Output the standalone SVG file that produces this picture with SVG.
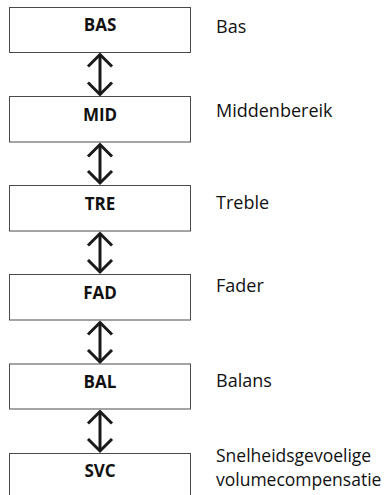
<svg xmlns="http://www.w3.org/2000/svg" width="390" height="495" viewBox="0 0 390 495">
<style>
.box{fill:#fff;stroke:#4a4a4a;stroke-width:1}
.code{font-family:"Open Sans","Liberation Sans",sans-serif;font-weight:bold;font-size:17px;fill:#111;text-anchor:middle}
.lbl{font-family:"Open Sans","Liberation Sans",sans-serif;font-size:18px;fill:#111}
.lbl2{font-size:17.5px}
.conn{stroke:#1a1a1a;stroke-width:3;fill:none}
</style>
<defs>
<marker id="chev" markerUnits="userSpaceOnUse" viewBox="0 0 16 28" markerWidth="16" markerHeight="28" refX="13.5" refY="14" orient="auto-start-reverse">
<path d="M1.5,2 L13.5,14 L1.5,26" fill="none" stroke="#1a1a1a" stroke-width="3" stroke-linejoin="miter"/>
</marker>
</defs>
<rect width="390" height="495" fill="#fff"/>
<g id="connectors">
<line class="conn" x1="100" y1="54.5" x2="100" y2="94.5" marker-start="url(#chev)" marker-end="url(#chev)"/>
<line class="conn" x1="100" y1="144.5" x2="100" y2="183" marker-start="url(#chev)" marker-end="url(#chev)"/>
<line class="conn" x1="100" y1="233.5" x2="100" y2="272" marker-start="url(#chev)" marker-end="url(#chev)"/>
<line class="conn" x1="100" y1="322.5" x2="100" y2="362" marker-start="url(#chev)" marker-end="url(#chev)"/>
<line class="conn" x1="100" y1="411.5" x2="100" y2="451" marker-start="url(#chev)" marker-end="url(#chev)"/>
</g>
<g id="node-bas">
<rect class="box" x="9.5" y="7.5" width="181" height="45"/>
<text class="code" x="100" y="31">BAS</text>
<text class="lbl" x="216" y="33">Bas</text>
</g>
<g id="node-mid">
<rect class="box" x="9.5" y="96.5" width="181" height="45.5"/>
<text class="code" x="100" y="121">MID</text>
<text class="lbl" x="216" y="116.5">Middenbereik</text>
</g>
<g id="node-tre">
<rect class="box" x="9.5" y="185.5" width="181" height="45.5"/>
<text class="code" x="100" y="210">TRE</text>
<text class="lbl" x="216" y="208.5">Treble</text>
</g>
<g id="node-fad">
<rect class="box" x="9.5" y="274.5" width="181" height="45.5"/>
<text class="code" x="100" y="299">FAD</text>
<text class="lbl" x="216" y="292">Fader</text>
</g>
<g id="node-bal">
<rect class="box" x="9.5" y="364" width="181" height="45"/>
<text class="code" x="100" y="388">BAL</text>
<text class="lbl" x="216" y="387">Balans</text>
</g>
<g id="node-svc">
<rect class="box" x="9.5" y="453.5" width="181" height="46"/>
<text class="code" x="100" y="477">SVC</text>
<text class="lbl lbl2" x="216" y="461.5">Snelheidsgevoelige<tspan x="216" dy="24">volumecompensatie</tspan></text>
</g>
</svg>
